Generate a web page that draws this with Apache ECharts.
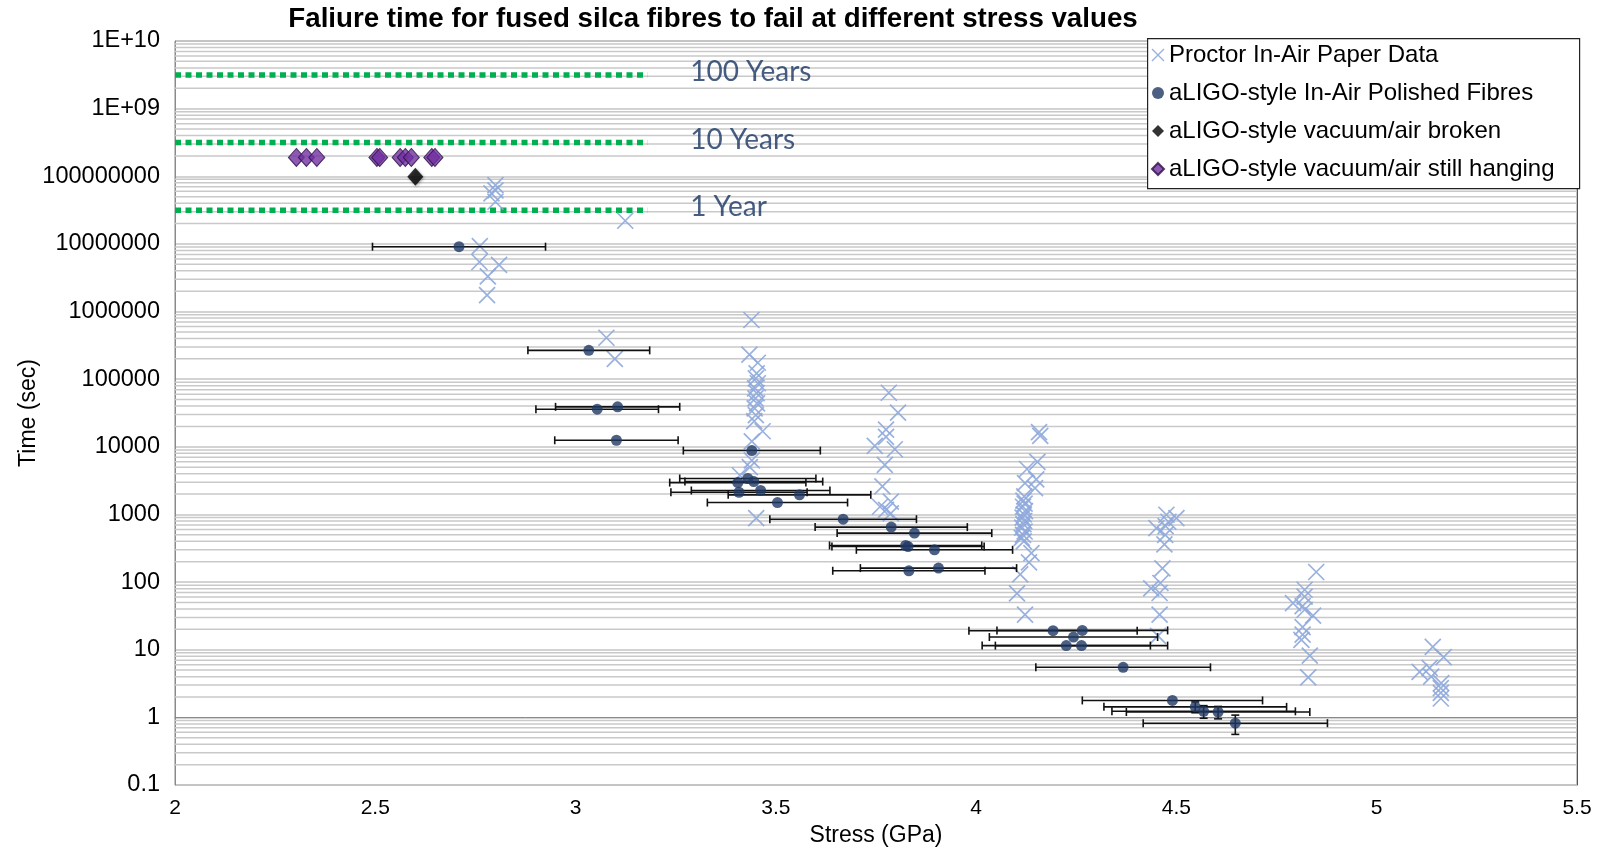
<!DOCTYPE html>
<html><head><meta charset="utf-8">
<script src="https://cdn.jsdelivr.net/npm/echarts@6/dist/echarts.min.js"></script>
<style>html,body{margin:0;padding:0;background:#fff}#c{width:1598px;height:847px}</style>
</head><body><div id="c"></div>
<script>
// ---- data ----
const proctorX = [2.80,2.80,2.79,2.80, 3.124, 2.761,2.76,2.809,2.781,2.779, 3.077,3.098,
  3.439,3.434,3.455,3.452,3.45,3.455,3.448,3.452,3.449,3.453,3.447,3.45,3.446,3.467,3.44,3.44,3.435,3.41,3.451,
  3.782,3.805,3.775,3.775,3.747,3.797,3.772,3.766,3.787,3.76,3.775,3.787,
  4.157,4.16,4.153,4.127,4.15,4.122,4.147,
  4.12,4.118,4.121,4.117,4.122,4.119,4.116,4.12,4.118,4.115,4.121,4.117,4.114,4.119,
  4.138,4.132,4.11,4.102,4.122,
  4.475,4.5,4.45,4.473,4.48,4.472,4.47,4.465,4.437,4.46,4.458,4.458,4.454,
  4.849,4.82,4.82,4.791,4.815,4.82,4.841,4.815,4.815,4.812,4.833,4.829,
  5.14,5.167,5.107,5.132,5.136,5.161,5.16,5.16,5.16];
const proctorY = [7.4e7,6.2e7,5.6e7,4.2e7, 2.2e7, 9.3e6,5.4e6,4.9e6,3.3e6,1.75e6, 4.1e5,2.0e5,
  7.5e5,2.3e5,1.75e5,1.22e5,1.03e5,8.7e4,7.3e4,6.2e4,5.2e4,4.4e4,3.7e4,2.95e4,2.4e4,1.7e4,1.2e4,6.3e3,5.0e3,3.8e3,880,
  6.3e4,3.2e4,1.8e4,1.4e4,1.03e4,9.2e3,5.4e3,2.6e3,1.55e3,1.3e3,1.17e3,1.04e3,
  1.65e4,1.45e4,6.0e3,4.7e3,3.3e3,2.9e3,2.45e3,
  1850,1600,1450,1300,1120,1000,900,800,720,640,560,500,450,400,
  268,195,130,68,33,
  990,880,630,670,780,500,360,160,81,97,69,33,16,
  141,77,61,49,44,39,32,21.6,16.7,14,8.2,3.9,
  11,7.8,4.7,5.4,4.0,3.2,2.7,2.3,1.9];

const polishedX = [2.709,3.033,3.054,3.105,3.102,3.44,3.405,3.43,3.445,3.408,3.462,3.559,3.504,
  3.668,3.788,3.846,3.824,3.83,3.896,3.832,3.906,
  4.192,4.265,4.243,4.225,4.263,4.367,4.49,4.547,4.568,4.604,4.647];
const polishedY = [9.1e6,2.67e5,3.6e4,3.9e4,1.25e4,8.8e3,2.96e3,3.4e3,3.06e3,2.13e3,2.26e3,1.95e3,1.5e3,
  850,650,530,348,336,300,147,161,
  19.1,19.3,15.4,11.5,11.5,5.5,1.78,1.43,1.23,1.2,0.82];
const polishedXErr = [0.216,0.152,0.153,0.155,0.154,0.171,0.17,0.17,0.172,0.17,0.173,0.178,0.175,
  0.183,0.19,0.193,0.19,0.19,0.195,0.19,0.195,
  0.21,0.213,0.21,0.21,0.215,0.218,0.225,0.228,0.229,0.229,0.23];
const polishedYErr = [0,0,0,0,0,0,0,0,0,0,0,0,0, 0,0,0,0,0,0,0,0, 0,0,0,0,0,0,0,0.26,0.26,0.25,0.26];

const brokenX = [2.6];
const brokenY = [9.8e7];

const hangingX = [2.303,2.328,2.354,2.504,2.511,2.562,2.575,2.59,2.641,2.649];
const hangingY = [1.9e8,1.9e8,1.9e8,1.9e8,1.9e8,1.9e8,1.9e8,1.9e8,1.9e8,1.9e8];

const lifetimeNames = ['1 Year','10 Years','100 Years'];
const lifetimeSeconds = [3.15576e7, 3.15576e8, 3.15576e9];
const lifetimeXRange = [2, 3.18];

// tick labels for decades 10^-1 .. 10^10
const yTickLabels = ['0.1','1','10','100','1000','10000','100000','1000000','10000000','100000000','1E+09','1E+10'];
const xTickLabels = ['2','2.5','3','3.5','4','4.5','5','5.5'];

const seriesNames = ['Proctor In-Air Paper Data','aLIGO-style In-Air Polished Fibres','aLIGO-style vacuum/air broken','aLIGO-style vacuum/air still hanging'];

// minor log gridlines (2..9 x 10^k) - axis decoration
const minorGrid = [];
for (let e = -1; e < 10; e++) for (let m = 2; m <= 9; m++) minorGrid.push(m * Math.pow(10, e));

const crossPath = 'path://M0 0L10 10M10 0L0 10';
const FONT = 'Liberation Sans';

const chart = echarts.init(document.getElementById('c'), null, {renderer:'canvas'});

const series = [];
series.push({
  type:'custom', name:'minorGrid', silent:true, z:1, yAxisIndex:0,
  data: minorGrid.map(v => [v]),
  renderItem(params, api){
    const v = api.value(0);
    const a = api.coord([2, v]), b = api.coord([5.5, v]);
    return {type:'line', shape:{x1:a[0],y1:a[1],x2:b[0],y2:b[1]}, style:{stroke:'#c9c9c9', lineWidth:1.5}};
  }
});
lifetimeNames.forEach((n,i)=>{
  series.push({
    type:'line', name:n, silent:true, z:2, symbol:'none', yAxisIndex:0,
    data: lifetimeXRange.map(x => [x, lifetimeSeconds[i]]),
    lineStyle:{color:'#00B050', width:5.5, type:[6,4.5], cap:'butt'}
  });
  series.push({
    type:'scatter', name:n+'_label', silent:true, z:2, symbolSize:1, yAxisIndex:0,
    itemStyle:{color:'rgba(0,0,0,0)'},
    data:[[lifetimeXRange[1], lifetimeSeconds[i]]],
    label:{show:true, position:'right', distance:42, offset:[0,-3], formatter:n, color:'#183562', fontSize:28, fontFamily:'Lato'}
  });
});
series.push({
  type:'scatter', name:seriesNames[0], z:3, symbol:crossPath, symbolSize:16, yAxisIndex:0,
  data: proctorX.map((x,i)=>[x, proctorY[i]]),
  itemStyle:{color:'rgba(0,0,0,0)', borderColor:'#8EA9DB', borderWidth:1.7, opacity:0.9}
});
series.push({
  type:'custom', name:'errbars', z:4, silent:true, yAxisIndex:0,
  data: polishedX.map((x,i)=>[x, polishedY[i], polishedXErr[i], polishedYErr[i]]),
  renderItem(params, api){
    const x = api.value(0), y = api.value(1), ex = api.value(2), ey = api.value(3);
    const l = api.coord([x-ex, y]), r = api.coord([x+ex, y]);
    const st = {stroke:'#111', lineWidth:1.6};
    const ch = [
      {type:'line', shape:{x1:l[0],y1:l[1],x2:r[0],y2:r[1]}, style:st},
      {type:'line', shape:{x1:l[0],y1:l[1]-4,x2:l[0],y2:l[1]+4}, style:st},
      {type:'line', shape:{x1:r[0],y1:r[1]-4,x2:r[0],y2:r[1]+4}, style:st}
    ];
    if (ey > 0) {
      const t = api.coord([x, y+ey]), b = api.coord([x, y-ey]);
      ch.push({type:'line', shape:{x1:t[0],y1:t[1],x2:b[0],y2:b[1]}, style:st});
      ch.push({type:'line', shape:{x1:t[0]-4,y1:t[1],x2:t[0]+4,y2:t[1]}, style:st});
      ch.push({type:'line', shape:{x1:b[0]-4,y1:b[1],x2:b[0]+4,y2:b[1]}, style:st});
    }
    return {type:'group', children:ch};
  }
});
series.push({
  type:'scatter', name:seriesNames[1], z:5, symbol:'circle', symbolSize:11, yAxisIndex:0,
  data: polishedX.map((x,i)=>[x, polishedY[i]]),
  itemStyle:{color:'#1F3864'}
});
series.push({
  type:'scatter', name:seriesNames[2], z:5, symbol:'diamond', symbolSize:[16,18], yAxisIndex:0,
  data: brokenX.map((x,i)=>[x, brokenY[i]]),
  itemStyle:{color:'#000000', shadowBlur:3, shadowColor:'rgba(0,0,0,0.4)', shadowOffsetX:1, shadowOffsetY:1}
});
series.push({
  type:'scatter', name:seriesNames[3], z:5, symbol:'diamond', symbolSize:[16,18], yAxisIndex:0,
  data: hangingX.map((x,i)=>[x, hangingY[i]]),
  itemStyle:{color:'#7030A0', borderColor:'#2b0f45', borderWidth:1}
});

chart.setOption({
  animation:false,
  backgroundColor:'#ffffff',
  title:{
    text:'Faliure time for fused silca fibres to fail at different stress values',
    left:713, top:5, textAlign:'center', padding:0,
    textStyle:{fontFamily:FONT, fontWeight:'bold', fontSize:27.7, color:'#000'}
  },
  grid:{left:175, right:21, top:41, bottom:62, outerBoundsMode:'none', containLabel:false,
    show:true, borderColor:'#8a8a8a', borderWidth:1, backgroundColor:'transparent'},
  xAxis:{
    type:'value', min:2, max:5.5, interval:0.5,
    name:'Stress (GPa)', nameLocation:'middle', nameGap:39, nameMoveOverlap:false,
    nameTextStyle:{fontFamily:FONT, fontSize:23, color:'#000'},
    axisLine:{show:true, lineStyle:{color:'#8a8a8a'}},
    axisTick:{show:false},
    splitLine:{show:false},
    axisLabel:{fontFamily:FONT, fontSize:21, color:'#000', margin:13,
      formatter:(v)=> xTickLabels[Math.round((v-2)/0.5)]}
  },
  yAxis:[{
    // data axis: logarithmic time
    type:'log', logBase:10, min:0.1, max:1e10, position:'right',
    axisLine:{show:true, lineStyle:{color:'#555'}},
    axisTick:{show:false}, axisLabel:{show:false}, splitLine:{show:false}
  },{
    // decade ticks: same extent expressed as log10(time)
    type:'value', min:-1, max:10, interval:1, position:'left',
    name:'Time (sec)', nameLocation:'middle', nameGap:135, nameMoveOverlap:false,
    nameTextStyle:{fontFamily:FONT, fontSize:23, color:'#000'},
    axisLine:{show:true, lineStyle:{color:'#8a8a8a'}},
    axisTick:{show:false},
    splitLine:{show:true, lineStyle:{color:'#c4c4c4', width:1.5}},
    axisLabel:{fontFamily:FONT, fontSize:23.5, color:'#000', margin:15,
      formatter:(v)=> yTickLabels[Math.round(v)+1]}
  }],
  graphic:[{
    type:'rect', z:50, left:1147, top:38,
    shape:{width:432, height:150},
    style:{fill:'#ffffff', stroke:'#222', lineWidth:1.2}
  }],
  legend:{
    orient:'vertical', left:1151, top:43, padding:0, itemGap:14,
    itemWidth:12, itemHeight:12, z:60, selectedMode:false,
    textStyle:{fontFamily:FONT, fontSize:24, lineHeight:22, color:'#000'},
    data:[
      {name:seriesNames[0], icon:crossPath, itemStyle:{color:'rgba(0,0,0,0)', borderColor:'#8EA9DB', borderWidth:1.4}},
      {name:seriesNames[1], icon:'circle'},
      {name:seriesNames[2], icon:'diamond'},
      {name:seriesNames[3], icon:'diamond'}
    ]
  },
  series: series
});
</script>
</body></html>
